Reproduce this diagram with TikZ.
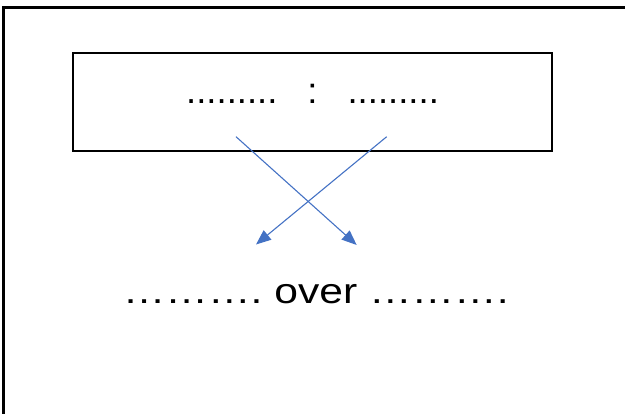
\documentclass[tikz,border=0pt]{standalone}
\usepackage{fontspec}
\setmainfont{Liberation Sans}
\usetikzlibrary{arrows.meta}
\definecolor{arrowblue}{HTML}{4472C4}
\tikzset{
  frameline/.style={line width=2.3pt, black},
  ratiobox/.style={draw=black, line width=1.8pt, minimum width=479.6pt, minimum height=98.3pt, inner sep=0pt},
  crossarrow/.style={arrowblue, line width=1.1pt, -{Triangle[length=15pt, width=12pt]}},
  toptext/.style={anchor=base, inner sep=0pt, font=\fontsize{36.5}{40}\selectfont},
  bottomtext/.style={anchor=base, inner sep=0pt, font=\fontsize{35.5}{40}\selectfont}
}
\begin{document}
\begin{tikzpicture}[x=1pt, y=-1pt]
  \useasboundingbox (0,0) rectangle (625,414);
  \clip (0,0) rectangle (625,414);
  % open frame: left and top edges only
  \draw[frameline] (3.5,420) -- (3.5,7.5) -- (630,7.5);
  % ratio box with its text
  \node[ratiobox] (box) at (312.5,101.85) {};
  \node[toptext] (ratio) at (312.5,103.5) {.........\hspace{30pt}:\hspace{30pt}.........};
  % crossing arrows
  \coordinate (s1) at (236,136.7);
  \coordinate (s2) at (386.7,136.7);
  \coordinate (e1) at (356.7,245);
  \coordinate (e2) at (256,244.5);
  \draw[crossarrow] (s1) -- (e1);
  \draw[crossarrow] (s2) -- (e2);
  % lower phrase
  \node[bottomtext] (over) at (315.8,304) {\scalebox{1.2}[1]{……….\ over\ ……….}};
\end{tikzpicture}
\end{document}
